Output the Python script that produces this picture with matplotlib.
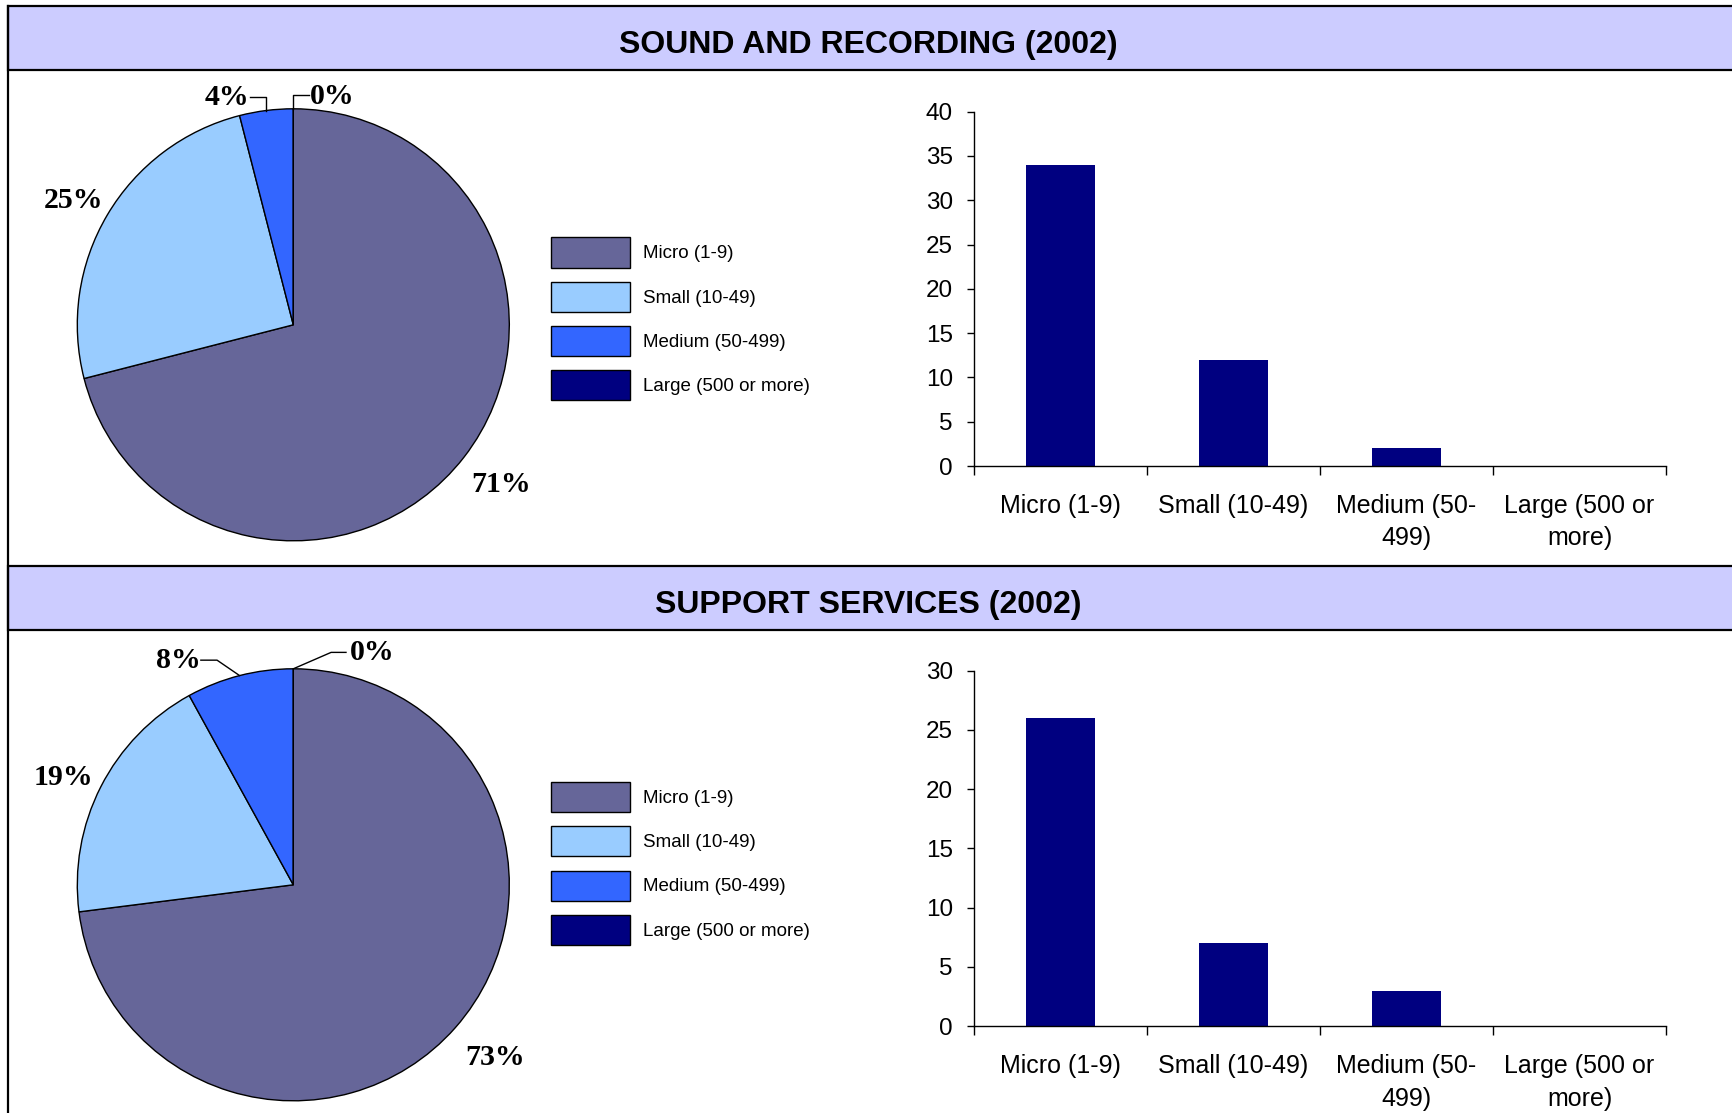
import matplotlib
matplotlib.use("Agg")
import matplotlib.pyplot as plt
import numpy as np
from matplotlib.patches import Rectangle

W, H = 1732, 1113
DPI = 100

# ---- data -------------------------------------------------------------
categories = ["Micro (1-9)", "Small (10-49)", "Medium (50-499)", "Large (500 or more)"]
bar_labels = ["Micro (1-9)", "Small (10-49)", "Medium (50-\n499)", "Large (500 or\nmore)"]
slice_colors = ["#666699", "#99CCFF", "#3366FF", "#000080"]
bar_color = "#000080"

sound_title = "SOUND AND RECORDING (2002)"
sound_share = [71, 25, 4, 0]        # percent of firms by size band
sound_counts = [34, 12, 2, 0]       # number of firms by size band

support_title = "SUPPORT SERVICES (2002)"
support_share = [73, 19, 8, 0]
support_counts = [26, 7, 3, 0]

# ---- styling ----------------------------------------------------------
plt.rcParams["font.family"] = ["Liberation Sans", "DejaVu Sans"]
HEADER_BG = "#CCCCFF"
SERIF = ["Liberation Serif", "DejaVu Serif"]
PCT_SIZE = 21.5

fig = plt.figure(figsize=(W / DPI, H / DPI), dpi=DPI)


def px_axes(x0, y0, x1, y1, **kw):
    """Axes placed by pixel box (top-left origin)."""
    return fig.add_axes([x0 / W, 1 - y1 / H, (x1 - x0) / W, (y1 - y0) / H], **kw)


# background frame, section headers
bg = px_axes(0, 0, W, H)
bg.set_xlim(0, W)
bg.set_ylim(H, 0)
bg.axis("off")


def header(y0, y1, title):
    bg.add_patch(Rectangle((7.5, y0), W + 20, y1 - y0, facecolor=HEADER_BG,
                           edgecolor="black", linewidth=1.6, clip_on=False))
    bg.text(W / 2 + 2, (y0 + y1) / 2 + 7, title, ha="center", va="center",
            fontsize=23, fontweight="bold")


header(6, 70, sound_title)
header(566, 630, support_title)
bg.plot([7.5, 7.5], [6, H + 5], color="black", linewidth=1.6, clip_on=False)


# ---- pie panel --------------------------------------------------------
R_PX = 216.0
LEG_FS = 13.5


def pie_panel(box, center, shares, leaders, nudges, legend_top):
    x0, y0, x1, y1 = box
    cx, cy = center
    ax = px_axes(x0, y0, x1, y1)
    wedges, _ = ax.pie(shares, colors=slice_colors, startangle=90, counterclock=False,
                       wedgeprops=dict(edgecolor="black", linewidth=1.0))
    ax.set_aspect("auto")
    ax.set_xlim((x0 - cx) / R_PX, (x1 - cx) / R_PX)
    ax.set_ylim((cy - y1) / R_PX, (cy - y0) / R_PX)
    ax.axis("off")

    for i, (w, v) in enumerate(zip(wedges, shares)):
        ang = np.deg2rad((w.theta1 + w.theta2) / 2)
        edge = (np.cos(ang), np.sin(ang))
        txt = f"{v}%"
        if i in leaders:
            lx, ly, path = leaders[i]
            pts = [edge if p == "edge" else p for p in path]
            pts = [(edge[0], p[1]) if p[0] == "ex" else p for p in pts]
            xs, ys = zip(*pts)
            ax.plot(xs, ys, color="black", linewidth=1.0, clip_on=False)
        else:
            d = 1.2
            dx, dy = nudges.get(i, (0, 0))
            lx, ly = d * edge[0] + dx, d * edge[1] + dy
        ax.text(lx, ly, txt, ha="center", va="center", fontsize=PCT_SIZE,
                fontweight="bold", family=SERIF)

    fs_px = LEG_FS * DPI / 72
    fig.legend(handles=wedges, labels=categories, loc="upper left",
               bbox_to_anchor=(551 / W, 1 - legend_top / H),
               frameon=False, fontsize=LEG_FS, handlelength=79 / fs_px,
               handleheight=2.085, labelspacing=0.76, handletextpad=0.69,
               borderpad=0, borderaxespad=0)
    return ax


pie_panel((10, 72, 560, 562), (293.3, 324.8), sound_share,
          leaders={
              2: (-0.305, 1.054, [(-0.200, 1.055), ("ex", 1.055), "edge"]),
              3: (0.180, 1.059, ["edge", ("ex", 1.062), (0.074, 1.062)]),
          },
          nudges={0: (0.015, -0.005), 1: (0.015, -0.036)},
          legend_top=237.5)
pie_panel((10, 632, 560, 1113), (293.3, 884.8), support_share,
          leaders={
              2: (-0.532, 1.040, [(-0.428, 1.040), (-0.353, 1.040), "edge"]),
              3: (0.366, 1.075, ["edge", (0.175, 1.076), (0.244, 1.076)]),
          },
          nudges={0: (0.035, -0.005), 1: (0.005, -0.048)},
          legend_top=782)


# ---- bar panel --------------------------------------------------------
def bar_panel(box, counts, ymax, step):
    ax = px_axes(*box)
    x = np.arange(len(counts))
    ax.bar(x, counts, width=0.4, color=bar_color)
    ax.set_xlim(-0.5, len(counts) - 0.5)
    ax.set_ylim(0, ymax)
    ax.set_yticks(np.arange(0, ymax + 1, step))
    ax.set_xticks(x, bar_labels, fontsize=18, linespacing=1.45)
    ax.set_xticks(np.arange(-0.5, len(counts)), minor=True)
    ax.tick_params(axis="x", which="major", length=0, pad=20)
    ax.tick_params(axis="x", which="minor", length=6.5, width=1.0, direction="out")
    ax.tick_params(axis="y", length=4.8, width=1.0, pad=10.5, labelsize=17.5)
    for s in ("top", "right"):
        ax.spines[s].set_visible(False)
    for s in ("left", "bottom"):
        ax.spines[s].set_linewidth(1.0)
    return ax


bar_panel((974, 111.6, 1666, 466.1), sound_counts, 40, 5)
bar_panel((974, 670.5, 1666, 1026.2), support_counts, 30, 5)

fig.savefig("out.png", dpi=DPI)
